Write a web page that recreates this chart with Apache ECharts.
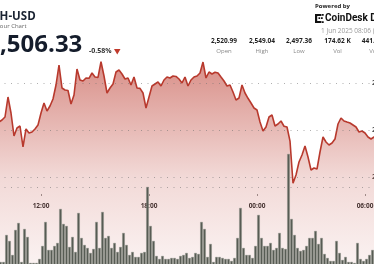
<!DOCTYPE html>
<html>
<head>
<meta charset="utf-8">
<script src="https://cdn.jsdelivr.net/npm/echarts@6/dist/echarts.min.js"></script>
<style>
html,body{margin:0;padding:0;background:#fff;overflow:hidden;width:374px;height:264px;}
#c{position:absolute;left:-40px;top:0;width:460px;height:280px;}
</style>
</head>
<body>
<div id="c"></div>
<script>
// ---- data (10-minute steps, 31 May 08:10 -> 1 Jun 08:00) ----
const startMinute = 8 * 60 + 10;
const stepMinutes = 10;
const prices = [
  2520.99, 2521.70, 2520.00, 2522.55, 2524.26, 2522.13, 2523.40, 2525.11, 2523.83, 2523.40,
  2524.26, 2525.53, 2534.04, 2527.23, 2517.45, 2520.85, 2521.70, 2512.77, 2520.43, 2518.72,
  2519.15, 2520.43, 2522.13, 2527.23, 2531.49, 2528.09, 2530.21, 2533.19, 2539.15, 2547.66,
  2537.87, 2537.02, 2536.80, 2531.06, 2534.89, 2545.96, 2541.28, 2540.85, 2542.13, 2542.00,
  2544.26, 2542.55, 2542.40, 2549.04, 2542.98, 2535.74, 2537.87, 2539.57, 2544.68, 2545.53,
  2543.83, 2541.70, 2542.13, 2539.15, 2542.55, 2537.87, 2537.70, 2535.74, 2529.36, 2534.04,
  2538.72, 2539.57, 2540.43, 2538.72, 2541.28, 2542.55, 2542.13, 2542.98, 2542.80, 2541.70,
  2540.00, 2542.55, 2538.72, 2541.28, 2542.55, 2542.98, 2544.26, 2548.90, 2542.13, 2544.68,
  2543.83, 2544.60, 2544.26, 2542.55, 2540.85, 2538.72, 2539.15, 2536.17, 2532.77, 2533.62,
  2539.15, 2535.74, 2533.50, 2531.49, 2529.36, 2528.51, 2523.40, 2519.57, 2521.28, 2525.53,
  2526.38, 2521.70, 2522.55, 2523.83, 2521.60, 2521.28, 2515.30, 2497.36, 2500.85, 2506.38,
  2509.36, 2513.19, 2508.51, 2502.98, 2503.83, 2503.40, 2510.64, 2517.02, 2514.89, 2513.62,
  2514.47, 2516.17, 2522.55, 2525.11, 2523.83, 2523.40, 2522.98, 2522.13, 2521.28, 2519.15,
  2519.57, 2518.72, 2517.02, 2516.17, 2517.02, 2515.74, 2516.60, 2513.62, 2511.49, 2512.34,
  2509.36, 2508.09, 2507.23, 2506.33
];
const volumes = [
  1200, 900, 1500, 800, 1100, 600, 1300, 700, 500,
  320, 320, 2480, 2000, 880, 2880, 3440, 320, 2960, 2320,
  240, 240, 240, 560, 1600, 3520, 1280, 1280, 1600, 1840,
  4560, 3360, 3200, 1520, 2320, 1120, 4240, 2240, 1680, 1440,
  1040, 1360, 3520, 1440, 4320, 2240, 2400, 1440, 1840, 1120,
  1520, 2640, 1680, 880, 1120, 720, 720, 1040, 1120, 6320,
  3200, 2000, 800, 560, 800, 560, 560, 640, 640, 560,
  800, 880, 1040, 640, 720, 1040, 960, 3520, 2960, 720,
  1760, 320, 720, 720, 640, 560, 560, 400, 640, 2240,
  4640, 1440, 880, 880, 640, 1600, 4080, 2240, 1600, 1600,
  1840, 1280, 1440, 2640, 1440, 1360, 8960, 3760, 2480, 1440,
  1200, 1280, 1600, 2240, 2240, 2800, 1760, 2240, 960, 640,
  400, 400, 2000, 1040, 480, 720, 320, 320, 240, 1840,
  560, 400, 560, 880, 1280, 1280,
  900, 1400, 700, 600, 1000, 800, 1200, 500, 700
];
const xTickLabels = ['12:00', '18:00', '00:00', '06:00'];
const yTickValues = [2500, 2520, 2540];
const gridValues = [2540, 2520, 2500, 2495.75];
const statValues = ['2,520.99', '2,549.04', '2,497.36', '174.62 K', '441.18 M'];
const statLabels = ['Open', 'High', 'Low', 'Vol', 'Vol $'];

// category labels
const times = [];
for (let k = 0; k < prices.length; k++) {
  const m = (startMinute + k * stepMinutes) % 1440;
  times.push(String(Math.floor(m / 60)).padStart(2, '0') + ':' + String(m % 60).padStart(2, '0'));
}
const showTick = (idx, val) => xTickLabels.indexOf(val) >= 0;

const OX = 40; // container offset
const graphic = [];
function txt(x, y, text, font, fill, align) {
  graphic.push({type: 'text', x: x + OX, y: y, silent: true,
    style: {text: text, font: font, fill: fill, textAlign: align || 'left', align: align || 'left',
            textVerticalAlign: 'middle', verticalAlign: 'middle'}});
}
txt(-13.5, 17, 'ETH-USD', 'bold 11.5px "Open Sans"', '#1a2332');
txt(-13, 26, '24 Hour Chart', '6px "Open Sans"', '#666');
txt(-13.7, 45.5, '2,506.33', 'bold 24px "Open Sans"', '#141c2b');
txt(89, 51, '-0.58%', 'bold 7px "Open Sans"', '#333');
graphic.push({type: 'polygon', silent: true, shape: {points: [[114 + OX, 49], [120.5 + OX, 49], [117.25 + OX, 54.5]]}, style: {fill: '#c0392b'}});
txt(315, 6.5, 'Powered by', 'bold 6px "Open Sans"', '#222');
// logo mark
[[315, 14, 2.2, 9], [315, 14, 6.5, 2], [315, 21, 6.5, 2], [318.5, 17.3, 1.7, 1.7], [321, 17.3, 1.7, 1.7], [322, 14, 1.7, 1.7], [322, 21.3, 1.7, 1.7]].forEach(r => {
  graphic.push({type: 'rect', silent: true, shape: {x: r[0] + OX, y: r[1], width: r[2], height: r[3]}, style: {fill: '#111'}});
});
txt(325, 18.5, 'CoinDesk Data', 'bold 10px Roboto', '#111');
txt(321, 31, '1 Jun 2025 08:06 (UTC)', '6.5px "Open Sans"', '#999');
const statX = [224, 262, 299, 337.5, 376];
statValues.forEach((v, k) => {
  txt(statX[k], 41.5, v, 'bold 6.5px "Open Sans"', '#222', 'center');
  txt(statX[k], 51.5, statLabels[k], '6px "Open Sans"', '#888', 'center');
});

const chart = echarts.init(document.getElementById('c'), null, {renderer: 'canvas'});
chart.setOption({
  animation: false,
  backgroundColor: '#fff',
  grid: [
    {left: 12, top: 36, width: 429, height: 235, outerBoundsMode: 'none'},
    {left: 12, top: 153.5, width: 432, height: 112.5, outerBoundsMode: 'none'}
  ],
  xAxis: [
    {type: 'category', gridIndex: 0, data: times, boundaryGap: false, offset: -77,
     axisLine: {show: false},
     axisTick: {show: true, interval: showTick, length: 2, lineStyle: {color: '#999'}},
     axisLabel: {interval: showTick, margin: 9, fontSize: 6.5, fontWeight: 'bold', color: '#333', fontFamily: 'Open Sans'},
     splitLine: {show: false}},
    {type: 'category', gridIndex: 1, data: times, boundaryGap: true, show: false}
  ],
  yAxis: [
    {type: 'value', gridIndex: 0, position: 'right', min: 2460, max: 2560, interval: 20,
     splitLine: {show: false}, axisLine: {show: false}, axisTick: {show: false},
     axisLabel: {inside: true, margin: 11, fontSize: 7, fontWeight: 'bold', color: '#555', fontFamily: 'Open Sans',
       formatter: v => yTickValues.indexOf(v) >= 0 ? v.toLocaleString('en-US') : ''}},
    {type: 'value', gridIndex: 1, min: 0, max: 9000, show: false}
  ],
  series: [
    {type: 'line', xAxisIndex: 0, yAxisIndex: 0, data: prices, symbol: 'none', z: 2,
     lineStyle: {color: '#b8392d', width: 1.6},
     areaStyle: {color: new echarts.graphic.LinearGradient(0, 0, 0, 1, [
       {offset: 0, color: 'rgba(188,60,48,0.82)'},
       {offset: 0.55, color: 'rgba(188,60,48,0.28)'},
       {offset: 1, color: 'rgba(188,60,48,0.08)'}
     ])},
     markLine: {silent: true, symbol: ['none', 'none'], label: {show: false}, animation: false,
       lineStyle: {type: [1, 5.5], color: 'rgba(110,110,110,0.55)', width: 1},
       data: gridValues.map(v => ({yAxis: v}))}},
    {type: 'bar', xAxisIndex: 1, yAxisIndex: 1, data: volumes, barWidth: 2.5, z: 3,
     itemStyle: {color: '#575c54', borderColor: '#8a8f86', borderWidth: 0.4}}
  ],
  graphic: graphic
});
</script>
</body>
</html>
